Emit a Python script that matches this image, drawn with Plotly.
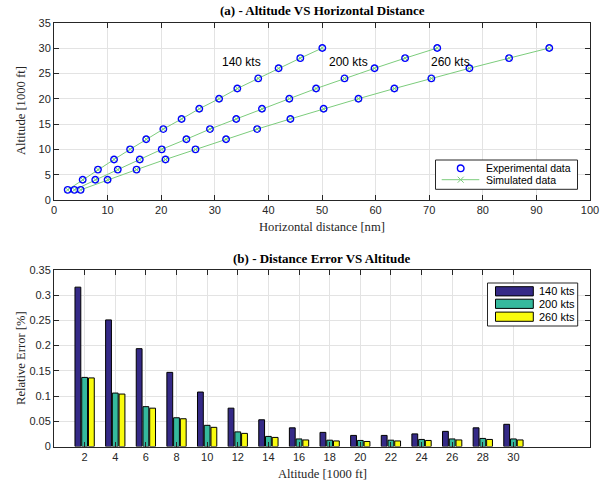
import plotly.graph_objects as go

# ---- data ----
altitudes = [2, 4, 6, 8, 10, 12, 14, 16, 18, 20, 22, 24, 26, 28, 30]
dist_140 = [2.55, 5.35, 8.2, 11.2, 14.2, 17.2, 20.4, 23.8, 27.1, 30.8, 34.2, 38.1, 41.9, 45.95, 50.06]
dist_200 = [3.8, 7.7, 11.9, 16.0, 20.1, 24.7, 29.1, 34.0, 38.8, 43.9, 48.9, 54.2, 59.8, 65.5, 71.5]
dist_260 = [4.97, 10.0, 15.4, 20.8, 26.4, 32.1, 37.9, 44.1, 50.3, 56.8, 63.5, 70.4, 77.5, 84.9, 92.4]

err_140 = [0.316, 0.251, 0.194, 0.147, 0.108, 0.076, 0.053, 0.037, 0.028, 0.022, 0.022, 0.025, 0.030, 0.037, 0.044]
err_200 = [0.137, 0.106, 0.079, 0.057, 0.042, 0.029, 0.020, 0.015, 0.0125, 0.012, 0.0125, 0.014, 0.015, 0.016, 0.015]
err_260 = [0.136, 0.104, 0.076, 0.055, 0.038, 0.026, 0.018, 0.013, 0.011, 0.010, 0.011, 0.012, 0.013, 0.014, 0.013]

speed_labels = ["140 kts", "200 kts", "260 kts"]
label_pos_x = [31, 50.9, 70]
label_pos_y = [27.3, 27.3, 27.3]
bar_colors = ["#352a87", "#35b99d", "#f9fb0e"]
top_legend_labels = ["Experimental data", "Simulated data"]

W, H = 614, 487
def py(px):
    return (H - px) / H
def pxx(px):
    return px / W

SERIF = "Liberation Serif"
SANS = "Liberation Sans"
AX = "#262626"
GRID = "#e3e3e3"
GREEN = "#7ccc7c"
BLUE = "#0000ff"

fig = go.Figure()

# ---- top plot ----
dists = [dist_140, dist_200, dist_260]
for i, d in enumerate(dists):
    fig.add_trace(go.Scatter(
        x=d, y=altitudes, mode="lines+markers",
        line=dict(color=GREEN, width=1),
        marker=dict(symbol="x-thin", size=6, line=dict(color=GREEN, width=1)),
        name="Simulated data", showlegend=False,
        xaxis="x", yaxis="y"))
for i, d in enumerate(dists):
    fig.add_trace(go.Scatter(
        x=d, y=altitudes, mode="markers",
        marker=dict(symbol="circle-open", size=6.5, color=BLUE, line=dict(color=BLUE, width=1.4)),
        name="Experimental data", showlegend=False,
        xaxis="x", yaxis="y"))

# ---- bottom plot ----
errs = [err_140, err_200, err_260]
bw = 0.38
centers = [-0.44, 0.0, 0.44]
for i, e in enumerate(errs):
    fig.add_trace(go.Bar(
        x=altitudes, y=e, width=bw, offset=centers[i] - bw / 2,
        marker=dict(color=bar_colors[i], line=dict(color="black", width=1)),
        name=speed_labels[i], showlegend=False, xaxis="x2", yaxis="y2"))

xdom = [pxx(54), pxx(590)]
axis_common = dict(
    showline=True, linecolor=AX, linewidth=1, mirror="ticks",
    ticks="inside", ticklen=5, tickcolor=AX, tickwidth=1,
    showgrid=True, gridcolor=GRID, gridwidth=1, zeroline=False,
    tickfont=dict(family=SANS, size=11, color=AX),
)

fig.update_layout(
    width=W, height=H,
    margin=dict(l=0, r=0, t=0, b=0, autoexpand=False),
    paper_bgcolor="white", plot_bgcolor="white",
    barmode="overlay",
    showlegend=False,
    xaxis=dict(domain=xdom, range=[0, 100], tickvals=list(range(0, 101, 10)), anchor="y", **axis_common),
    yaxis=dict(domain=[py(200), py(22.7)], range=[0, 35], tickvals=list(range(0, 36, 5)), anchor="x", **axis_common),
    xaxis2=dict(domain=xdom, range=[0, 35], tickvals=altitudes, anchor="y2", **axis_common),
    yaxis2=dict(domain=[py(446.5), py(270)], range=[0, 0.35],
                tickvals=[0, 0.05, 0.1, 0.15, 0.2, 0.25, 0.3, 0.35],
                ticktext=["0", "0.05", "0.1", "0.15", "0.2", "0.25", "0.3", "0.35"],
                anchor="x2", **axis_common),
)

shapes = []
ann = []

def rect(x0, y0, x1, y1, fill, line_color, lw=1):
    shapes.append(dict(type="rect", xref="paper", yref="paper",
                       x0=pxx(x0), x1=pxx(x1), y0=py(y1), y1=py(y0),
                       fillcolor=fill, line=dict(color=line_color, width=lw), layer="above"))

def seg(x0, y0, x1, y1, color, lw=1):
    shapes.append(dict(type="line", xref="paper", yref="paper",
                       x0=pxx(x0), x1=pxx(x1), y0=py(y0), y1=py(y1),
                       line=dict(color=color, width=lw), layer="above"))

def text(t, x, y, size, family=SANS, color="black", xanchor="left", angle=0):
    ann.append(dict(text=t, x=pxx(x), y=py(y), xref="paper", yref="paper",
                    xanchor=xanchor, yanchor="middle", showarrow=False, textangle=angle,
                    font=dict(family=family, size=size, color=color)))

# ---- top legend (manual, MATLAB-like compact) ----
rect(435.5, 160, 577.5, 189.3, "white", AX)
r1, r2 = 168.3, 179.7
shapes.append(dict(type="circle", xref="paper", yref="paper",
                   x0=pxx(460.7 - 3.3), x1=pxx(460.7 + 3.3), y0=py(r1 + 3.3), y1=py(r1 - 3.3),
                   line=dict(color=BLUE, width=1.4), layer="above"))
seg(441.7, r2, 479.3, r2, GREEN, 1)
seg(457.7, r2 - 3, 463.7, r2 + 3, GREEN, 1)
seg(457.7, r2 + 3, 463.7, r2 - 3, GREEN, 1)
text(top_legend_labels[0], 484.3, r1, 10.5)
text(top_legend_labels[1], 484.3, r2, 10.5)

# ---- bottom legend ----
rect(487.5, 283, 577.7, 326, "white", AX)
rows = [291.3, 303.8, 316.7]
for i, lab in enumerate(speed_labels):
    rect(495.5, rows[i] - 4.6, 533.3, rows[i] + 4.6, bar_colors[i], "black")
    text(lab, 536.7, rows[i], 11)

# titles
ann.append(dict(text="<b>(a) - Altitude VS Horizontal Distance</b>", x=pxx(322), y=py(11),
                xref="paper", yref="paper", xanchor="center", yanchor="middle", showarrow=False,
                font=dict(family=SERIF, size=13, color="black")))
ann.append(dict(text="<b>(b) - Distance Error VS Altitude</b>", x=pxx(322), y=py(258),
                xref="paper", yref="paper", xanchor="center", yanchor="middle", showarrow=False,
                font=dict(family=SERIF, size=13, color="black")))
# axis titles
text("Horizontal distance [nm]", 322, 227, 12.6, SERIF, AX, "center")
text("Altitude [1000 ft]", 322, 474, 12.6, SERIF, AX, "center")
text("Altitude [1000 ft]", 21, 111, 12.6, SERIF, AX, "center", -90)
text("Relative Error [%]", 21, 358, 12.6, SERIF, AX, "center", -90)

# speed labels in data coordinates
for i, lab in enumerate(speed_labels):
    ann.append(dict(text=lab, x=label_pos_x[i], y=label_pos_y[i], xref="x", yref="y",
                    xanchor="left", yanchor="middle", showarrow=False,
                    font=dict(family=SANS, size=12, color="black")))

fig.update_layout(annotations=ann, shapes=shapes)

fig.write_html("out.html", config={"displayModeBar": False},
               post_script="document.body.style.margin='0px';document.body.style.padding='0px';")
